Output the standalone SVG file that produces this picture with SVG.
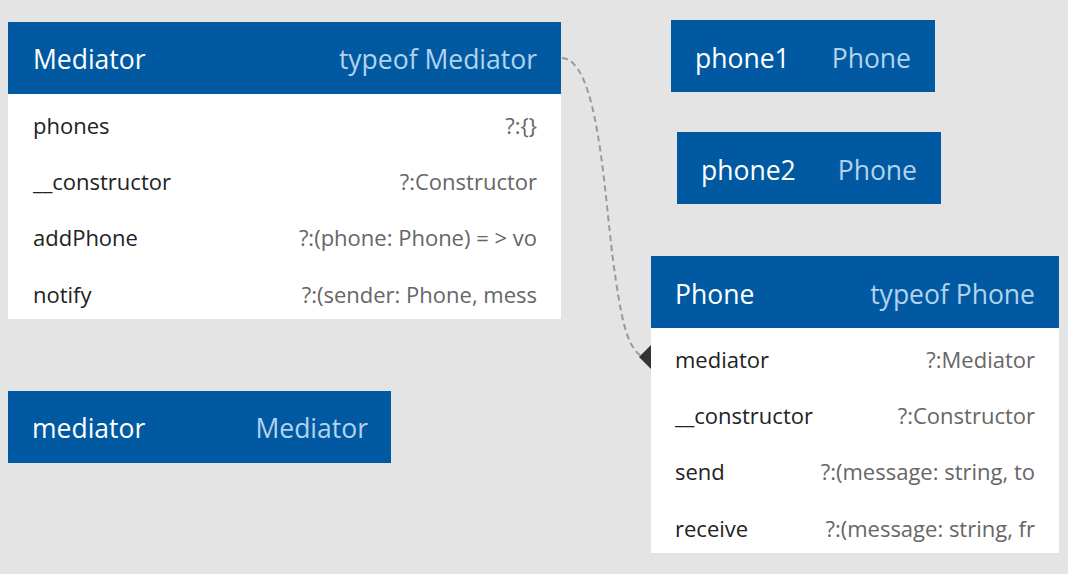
<svg xmlns="http://www.w3.org/2000/svg" width="1068" height="574" viewBox="0 0 1068 574">
<style>
.hd{fill:#015aa1}
.bd{fill:#ffffff}
.tn{font-family:"Open Sans","Noto Sans",sans-serif;font-size:26.5px;fill:#ffffff}
.tt{font-family:"Open Sans","Noto Sans",sans-serif;font-size:26.5px;fill:#b3d2ee;text-anchor:end}
.rn{font-family:"Open Sans","Noto Sans",sans-serif;font-size:22px;fill:#222222}
.rv{font-family:"Open Sans","Noto Sans",sans-serif;font-size:22px;fill:#666666;text-anchor:end}
.cn{fill:none;stroke:#999999;stroke-width:2;stroke-dasharray:6 4}
</style>
<rect width="1068" height="574" fill="#e4e4e4"/>
<g id="connectors">
<path class="cn" d="M562,58 C598,60 604,190 613,260 C621,318 626,345 641,356"/>
<polygon points="639,357 651,345 651,369" fill="#333333"/>
</g>
<g id="Mediator">
<rect class="hd" x="8" y="22" width="553" height="72"/>
<rect class="bd" x="8" y="94" width="553" height="225"/>
<text class="tn" x="33" y="69">Mediator</text>
<text class="tt" x="537" y="69">typeof Mediator</text>
<text class="rn" x="33" y="134">phones</text><text class="rv" x="537" y="134">?:{}</text>
<text class="rn" x="33" y="190">__constructor</text><text class="rv" x="537" y="190">?:Constructor</text>
<text class="rn" x="33" y="246">addPhone</text><text class="rv" x="537" y="246">?:(phone: Phone) = &gt; vo</text>
<text class="rn" x="33" y="303">notify</text><text class="rv" x="537" y="303">?:(sender: Phone, mess</text>
</g>
<g id="phone1">
<rect class="hd" x="671" y="20" width="264" height="72"/>
<text class="tn" x="695" y="68">phone1</text>
<text class="tt" x="911" y="68">Phone</text>
</g>
<g id="phone2">
<rect class="hd" x="677" y="132" width="264" height="72"/>
<text class="tn" x="701" y="180">phone2</text>
<text class="tt" x="917" y="180">Phone</text>
</g>
<g id="Phone">
<rect class="hd" x="651" y="256" width="408" height="72"/>
<rect class="bd" x="651" y="328" width="408" height="225"/>
<text class="tn" x="675" y="304">Phone</text>
<text class="tt" x="1035" y="304">typeof Phone</text>
<text class="rn" x="675" y="368">mediator</text><text class="rv" x="1035" y="368">?:Mediator</text>
<text class="rn" x="675" y="424">__constructor</text><text class="rv" x="1035" y="424">?:Constructor</text>
<text class="rn" x="675" y="480">send</text><text class="rv" x="1035" y="480">?:(message: string, to</text>
<text class="rn" x="675" y="537">receive</text><text class="rv" x="1035" y="537">?:(message: string, fr</text>
</g>
<g id="mediator">
<rect class="hd" x="8" y="391" width="383" height="72"/>
<text class="tn" x="32" y="438">mediator</text>
<text class="tt" x="368" y="438">Mediator</text>
</g>
</svg>
